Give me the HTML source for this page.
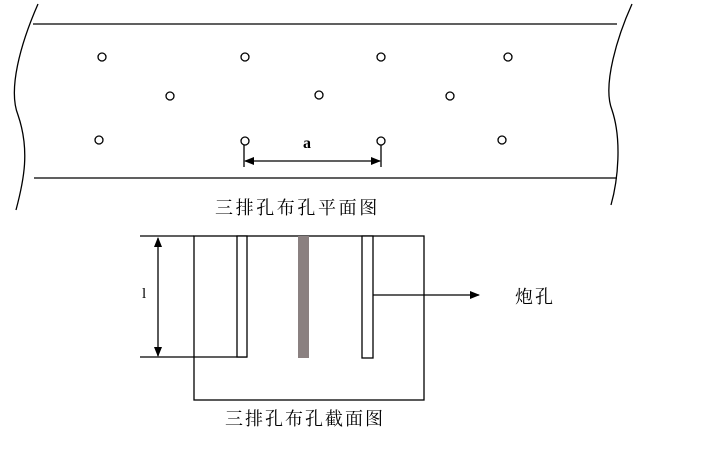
<!DOCTYPE html>
<html><head><meta charset="utf-8"><style>body{margin:0;background:#fff}svg{display:block}</style></head><body>
<svg width="721" height="473" viewBox="0 0 721 473" xmlns="http://www.w3.org/2000/svg" font-family="Liberation Serif, Noto Serif CJK SC, serif">
<defs><marker id="ah" markerWidth="10" markerHeight="8" refX="9" refY="4" orient="auto" markerUnits="userSpaceOnUse"><path d="M0,0 L10,4 L0,8 Z" fill="#000"/></marker>
<marker id="as" markerWidth="10" markerHeight="8" refX="1" refY="4" orient="auto" markerUnits="userSpaceOnUse"><path d="M10,0 L0,4 L10,8 Z" fill="#000"/></marker></defs>
<g stroke="#000" stroke-width="1.3" fill="none">
<line x1="33" y1="24" x2="617" y2="24"/>
<line x1="34" y1="178" x2="617" y2="178"/>
<path d="M38,4 C20,45 8,90 18,115 C30,150 24,180 16,210"/>
<path d="M632,4 C618,35 602,85 612,110 C622,140 618,180 611,205"/>
<circle cx="102" cy="57" r="4"/><circle cx="245" cy="57" r="4"/><circle cx="381" cy="57" r="4"/><circle cx="508" cy="57" r="4"/>
<circle cx="170" cy="96" r="4"/><circle cx="319" cy="95" r="4"/><circle cx="450" cy="96" r="4"/>
<circle cx="99" cy="140" r="4"/><circle cx="245" cy="141" r="4"/><circle cx="381" cy="141" r="4"/><circle cx="502" cy="140" r="4"/>
<line x1="244" y1="145" x2="244" y2="167"/><line x1="381" y1="145" x2="381" y2="167"/>
<line x1="245" y1="161" x2="380" y2="161" marker-end="url(#ah)" marker-start="url(#as)"/>
<line x1="140" y1="236" x2="194" y2="236"/>
<rect x="194" y="236" width="230" height="164"/>
<line x1="140" y1="357" x2="247" y2="357"/>
<rect x="237" y="236" width="10" height="121" fill="#fff"/>
<rect x="362" y="236" width="11" height="122" fill="#fff"/>
<line x1="158" y1="238" x2="158" y2="356" marker-end="url(#ah)" marker-start="url(#as)"/>
<line x1="373" y1="295" x2="479" y2="295" marker-end="url(#ah)"/>
</g>
<rect x="298" y="236" width="11" height="122" fill="#8a8080"/>
<text x="307" y="148" font-size="16" font-weight="bold" text-anchor="middle">a</text>
<text x="142" y="298" font-size="15">l</text>
<text x="215" y="214" font-size="18" letter-spacing="2.6">三排孔布孔平面图</text>
<text x="225" y="425" font-size="18" letter-spacing="2">三排孔布孔截面图</text>
<text x="515" y="303" font-size="18" letter-spacing="2">炮孔</text>
</svg>
</body></html>
